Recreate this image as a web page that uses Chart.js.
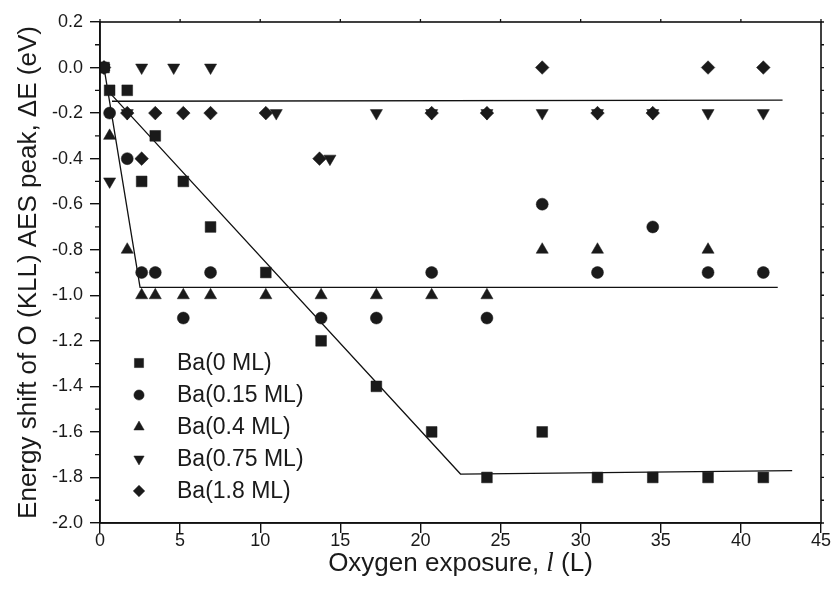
<!DOCTYPE html>
<html>
<head>
<meta charset="utf-8">
<script src="https://cdn.jsdelivr.net/npm/chart.js@4.4.1/dist/chart.umd.min.js"></script>
<style>
  html, body { margin: 0; padding: 0; background: #fff; }
  #wrap { width: 834px; height: 598px; position: relative; }
</style>
</head>
<body>
<div id="wrap"><canvas id="c" width="834" height="598"></canvas></div>
<script>
// ---- data ----
const seriesNames = ['Ba(0 ML)', 'Ba(0.15 ML)', 'Ba(0.4 ML)', 'Ba(0.75 ML)', 'Ba(1.8 ML)'];

const ba0X = [0.25, 0.6, 1.7, 2.6, 3.45, 5.2, 6.9, 10.35, 13.8, 17.25, 20.7, 24.15, 27.6, 31.05, 34.5, 37.95, 41.4];
const ba0Y = [0, -0.1, -0.1, -0.5, -0.3, -0.5, -0.7, -0.9, -1.2, -1.4, -1.6, -1.8, -1.6, -1.8, -1.8, -1.8, -1.8];

const ba015X = [0.25, 0.6, 1.7, 2.6, 3.45, 5.2, 6.9, 13.8, 17.25, 20.7, 24.15, 27.6, 31.05, 34.5, 37.95, 41.4];
const ba015Y = [0, -0.2, -0.4, -0.9, -0.9, -1.1, -0.9, -1.1, -1.1, -0.9, -1.1, -0.6, -0.9, -0.7, -0.9, -0.9];

const ba04X = [0.25, 0.6, 1.7, 2.6, 3.45, 5.2, 6.9, 10.35, 13.8, 17.25, 20.7, 24.15, 27.6, 31.05, 37.95];
const ba04Y = [0, -0.3, -0.8, -1.0, -1.0, -1.0, -1.0, -1.0, -1.0, -1.0, -1.0, -1.0, -0.8, -0.8, -0.8];

const ba075X = [0.25, 0.6, 1.7, 2.6, 4.6, 6.9, 11.0, 14.35, 17.25, 20.7, 24.15, 27.6, 31.05, 34.5, 37.95, 41.4];
const ba075Y = [0, -0.5, -0.2, 0, 0, 0, -0.2, -0.4, -0.2, -0.2, -0.2, -0.2, -0.2, -0.2, -0.2, -0.2];

const ba18X = [0.25, 1.7, 2.6, 3.45, 5.2, 6.9, 10.35, 13.7, 20.7, 24.15, 27.6, 31.05, 34.5, 37.95, 41.4];
const ba18Y = [0, -0.2, -0.4, -0.2, -0.2, -0.2, -0.2, -0.4, -0.2, -0.2, 0, -0.2, -0.2, 0, 0];

// guide lines drawn on the figure
const fitAX = [0.6, 22.5, 43.2];
const fitAY = [-0.11, -1.785, -1.77];
const fitBX = [0.25, 2.5, 42.3];
const fitBY = [0, -0.965, -0.965];
const fitCX = [0.75, 42.6];
const fitCY = [-0.148, -0.143];

// axes
const xTicks = [0, 5, 10, 15, 20, 25, 30, 35, 40, 45];
const yTicks = [0.2, 0.0, -0.2, -0.4, -0.6, -0.8, -1.0, -1.2, -1.4, -1.6, -1.8, -2.0];
const yTickLabels = ['0.2', '0.0', '-0.2', '-0.4', '-0.6', '-0.8', '-1.0', '-1.2', '-1.4', '-1.6', '-1.8', '-2.0'];
const yMinorTicks = [0.1, -0.1, -0.3, -0.5, -0.7, -0.9, -1.1, -1.3, -1.5, -1.7, -1.9];
const xTitleParts = ['Oxygen exposure, ', 'l', ' (L)'];
const yTitle = 'Energy shift of O (KLL) AES peak, \u0394E (eV)';

// ---- build ----
const zip = (xs, ys) => xs.map((x, i) => ({ x: x, y: ys[i] }));
const styles = [
  { pointStyle: 'rect', radius: 7.6, rotation: 0 },
  { pointStyle: 'circle', radius: 6, rotation: 0 },
  { pointStyle: 'triangle', radius: 7, rotation: 0 },
  { pointStyle: 'triangle', radius: 7, rotation: 180 },
  { pointStyle: 'rectRot', radius: 6.8, rotation: 0 }
];
const seriesData = [zip(ba0X, ba0Y), zip(ba015X, ba015Y), zip(ba04X, ba04Y), zip(ba075X, ba075Y), zip(ba18X, ba18Y)];

const datasets = seriesData.map((d, i) => ({
  label: seriesNames[i],
  data: d,
  showLine: false,
  pointStyle: styles[i].pointStyle,
  pointRadius: styles[i].radius,
  pointRotation: styles[i].rotation,
  pointBackgroundColor: '#1a1a1a',
  pointBorderColor: '#1a1a1a',
  pointBorderWidth: 0.5
}));
[[fitAX, fitAY], [fitBX, fitBY], [fitCX, fitCY]].forEach(([xs, ys]) => {
  datasets.push({
    label: '_fit',
    data: zip(xs, ys),
    showLine: true,
    borderColor: '#111',
    borderWidth: 1.3,
    pointRadius: 0,
    fill: false,
    tension: 0
  });
});

const FONT = '"Liberation Sans", Arial, Helvetica, sans-serif';

const framePlugin = {
  id: 'frame',
  afterDraw(chart) {
    const { ctx, chartArea: a, scales } = chart;
    ctx.save();
    ctx.strokeStyle = '#111';
    ctx.lineWidth = 1.6;
    ctx.strokeRect(a.left, a.top, a.right - a.left, a.bottom - a.top);
    // minor ticks on the left (outward)
    ctx.lineWidth = 1.3;
    ctx.beginPath();
    yMinorTicks.forEach(v => {
      const py = scales.y.getPixelForValue(v);
      ctx.moveTo(a.left - 5, py); ctx.lineTo(a.left, py);
    });
    // small mirrored ticks on the right side
    yTicks.concat(yMinorTicks).forEach(v => {
      const py = scales.y.getPixelForValue(v);
      ctx.moveTo(a.right, py); ctx.lineTo(a.right + 3, py);
    });
    // small mirrored ticks on top
    xTicks.forEach(v => {
      const px = scales.x.getPixelForValue(v);
      ctx.moveTo(px, a.top); ctx.lineTo(px, a.top - 3);
    });
    ctx.stroke();

    // x axis title with italic l
    const fontMain = '26px ' + FONT;
    const fontIt = 'italic 27px "Liberation Serif", "Times New Roman", serif';
    ctx.fillStyle = '#1a1a1a';
    ctx.textBaseline = 'middle';
    ctx.textAlign = 'left';
    ctx.font = fontMain;
    const w0 = ctx.measureText(xTitleParts[0]).width;
    const w2 = ctx.measureText(xTitleParts[2]).width;
    ctx.font = fontIt;
    const w1 = ctx.measureText(xTitleParts[1]).width;
    const total = w0 + w1 + w2;
    const cx = (a.left + a.right) / 2;
    const ty = 564;
    let x = cx - total / 2;
    ctx.font = fontMain; ctx.fillText(xTitleParts[0], x, ty); x += w0;
    ctx.font = fontIt; ctx.fillText(xTitleParts[1], x, ty); x += w1;
    ctx.font = fontMain; ctx.fillText(xTitleParts[2], x, ty);
    ctx.restore();
  }
};

const legendPlugin = {
  id: 'insideLegend',
  afterDatasetsDraw(chart) {
    const { ctx, chartArea: a } = chart;
    ctx.save();
    const mx = a.left + 39;
    const y0 = a.top + 341;
    const step = 32;
    ctx.font = '23px ' + FONT;
    ctx.textBaseline = 'middle';
    ctx.textAlign = 'left';
    seriesNames.forEach((name, i) => {
      const y = y0 + i * step;
      ctx.fillStyle = '#1a1a1a';
      ctx.strokeStyle = '#1a1a1a';
      ctx.lineWidth = 0.5;
      Chart.helpers.drawPoint(ctx, {
        pointStyle: styles[i].pointStyle,
        radius: styles[i].radius * 0.85,
        rotation: styles[i].rotation,
        borderWidth: 0.5
      }, mx, y);
      ctx.fillStyle = '#1a1a1a';
      ctx.fillText(name, a.left + 77, y + 1);
    });
    ctx.restore();
  }
};

new Chart(document.getElementById('c'), {
  type: 'scatter',
  data: { datasets: datasets },
  options: {
    responsive: false,
    animation: false,
    layout: { padding: { top: 22, right: 13, left: 0, bottom: 0 } },
    plugins: { legend: { display: false }, tooltip: { enabled: false } },
    scales: {
      x: {
        type: 'linear',
        min: 0, max: 45,
        afterBuildTicks(s) { s.ticks = xTicks.map(v => ({ value: v })); },
        afterFit(s) { s.height = 75; },
        ticks: {
          color: '#1a1a1a',
          font: { family: FONT, size: 18 },
          padding: -3,
          callback: v => String(v),
          maxRotation: 0
        },
        grid: { drawOnChartArea: false, drawTicks: true, tickLength: 10, color: '#111', lineWidth: 1.4 },
        border: { display: true, color: '#111', width: 1.6 },
        title: { display: false }
      },
      y: {
        type: 'linear',
        min: -2.0, max: 0.2,
        afterBuildTicks(s) { s.ticks = yTicks.map(v => ({ value: v })); },
        afterFit(s) { s.width = 100; },
        ticks: {
          color: '#1a1a1a',
          font: { family: FONT, size: 18 },
          padding: 7,
          callback: function (v) {
            const i = yTicks.findIndex(t => Math.abs(t - v) < 1e-6);
            return i >= 0 ? yTickLabels[i] : '';
          }
        },
        grid: { drawOnChartArea: false, drawTicks: true, tickLength: 10, color: '#111', lineWidth: 1.4 },
        border: { display: true, color: '#111', width: 1.6 },
        title: {
          display: true,
          text: yTitle,
          color: '#1a1a1a',
          font: { family: FONT, size: 26 },
          padding: { top: 13, bottom: 0 }
        }
      }
    }
  },
  plugins: [framePlugin, legendPlugin]
});
</script>
</body>
</html>
